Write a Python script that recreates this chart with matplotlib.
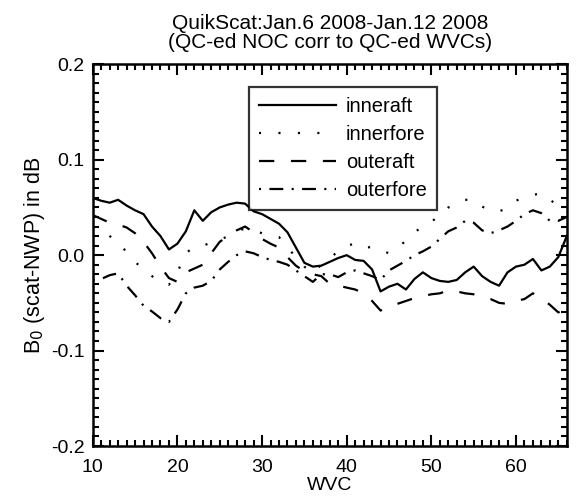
import matplotlib
matplotlib.use("Agg")
import matplotlib.pyplot as plt
from matplotlib.ticker import MultipleLocator

plt.rcParams['font.family'] = ['Liberation Sans', 'DejaVu Sans']
plt.rcParams['lines.scale_dashes'] = False

wvc = list(range(10, 67))
inneraft = [0.060, 0.057, 0.055, 0.058, 0.052, 0.047, 0.043, 0.030, 0.020, 0.006,
            0.012, 0.025, 0.047, 0.036, 0.045, 0.050, 0.053, 0.055, 0.054, 0.046,
            0.043, 0.038, 0.033, 0.024, 0.008, -0.008, -0.012, -0.011, -0.007, -0.003,
            0.000, -0.005, -0.006, -0.015, -0.038, -0.033, -0.030, -0.036, -0.025, -0.018,
            -0.024, -0.027, -0.028, -0.026, -0.018, -0.012, -0.022, -0.028, -0.032, -0.018,
            -0.012, -0.010, -0.004, -0.016, -0.012, -0.002, 0.020]
innerfore = [0.030, 0.027, 0.020, 0.014, 0.003, -0.007, -0.015, -0.022, -0.028, -0.031,
             -0.018, 0.002, 0.009, 0.010, 0.013, 0.016, 0.020, 0.025, 0.028, 0.026,
             0.023, 0.021, 0.019, 0.008, -0.002, -0.012, -0.019, -0.010, -0.003, 0.004,
             0.010, 0.012, 0.007, 0.009, 0.005, 0.002, 0.008, 0.015, 0.024, 0.030,
             0.034, 0.044, 0.050, 0.053, 0.058, 0.058, 0.051, 0.046, 0.046, 0.049,
             0.057, 0.061, 0.063, 0.065, 0.058, 0.052, 0.052]
outeraft = [0.042, 0.038, 0.034, 0.032, 0.029, 0.023, 0.014, 0.002, -0.012, -0.024,
            -0.028, -0.018, -0.014, -0.010, 0.002, 0.014, 0.020, 0.026, 0.030, 0.024,
            0.017, 0.012, 0.008, -0.002, -0.011, -0.017, -0.020, -0.022, -0.030, -0.032,
            -0.034, -0.036, -0.040, -0.048, -0.058, -0.055, -0.051, -0.048, -0.045, -0.043,
            -0.041, -0.040, -0.037, -0.038, -0.040, -0.041, -0.044, -0.046, -0.050, -0.051,
            -0.048, -0.046, -0.040, -0.045, -0.052, -0.060, -0.056]
outerfore = [-0.026, -0.025, -0.021, -0.019, -0.032, -0.042, -0.053, -0.059, -0.066, -0.070,
             -0.057, -0.040, -0.034, -0.032, -0.027, -0.015, -0.007, 0.000, 0.004, 0.002,
             -0.002, -0.005, -0.007, -0.010, -0.016, -0.022, -0.028, -0.020, -0.020, -0.023,
             -0.018, -0.016, -0.019, -0.022, -0.026, -0.016, -0.011, -0.006, 0.000, 0.004,
             0.009, 0.017, 0.025, 0.029, 0.036, 0.034, 0.026, 0.023, 0.026, 0.030,
             0.036, 0.043, 0.047, 0.044, 0.036, 0.036, 0.040]

fig = plt.figure(figsize=(5.76, 4.97), dpi=100)
ax = fig.add_axes([0.161, 0.1026, 0.823, 0.768])

lw = 1.6
ax.plot(wvc, inneraft, color='black', lw=lw, linestyle='-', label='inneraft')
ax.plot(wvc, innerfore, color='black', lw=lw, linestyle=(0, (1.5, 12.5)), label='innerfore')
ax.plot(wvc, outeraft, color='black', lw=lw, linestyle=(0, (11, 12)), label='outeraft')
ax.plot(wvc, outerfore, color='black', lw=lw, linestyle=(0, (1.5, 6, 10, 6)), label='outerfore')

ax.set_xlim(10, 66)
ax.set_ylim(-0.2, 0.2)
ax.xaxis.set_major_locator(MultipleLocator(10))
ax.xaxis.set_minor_locator(MultipleLocator(1))
ax.yaxis.set_major_locator(MultipleLocator(0.1))
ax.yaxis.set_minor_locator(MultipleLocator(0.01))
ax.set_yticks([-0.2, -0.1, 0.0, 0.1, 0.2])
ax.set_yticklabels(['-0.2', '-0.1', '0.0', '0.1', '0.2'])
ax.tick_params(which='both', direction='in', top=True, right=True, width=1.5, labelsize=14)
ax.tick_params(axis='x', pad=9)
ax.tick_params(axis='y', pad=6)
ax.tick_params(which='major', length=8)
ax.tick_params(which='minor', length=4)
for s in ax.spines.values():
    s.set_linewidth(1.8)

ax.set_xlabel('WVC', fontsize=14, labelpad=1)
ax.set_ylabel(r'B$_0$ (scat-NWP) in dB', fontsize=15.5, labelpad=3)
ax.set_title('QuikScat:Jan.6 2008-Jan.12 2008\n(QC-ed NOC corr to QC-ed WVCs)', fontsize=15,
             linespacing=0.95, pad=12)

leg = ax.legend(loc='upper left', bbox_to_anchor=(0.330, 0.9405), borderaxespad=0,
                fontsize=14.5, handlelength=3.8, handletextpad=0.5, labelspacing=0.45,
                frameon=True, fancybox=False, edgecolor='black', borderpad=0.5)
leg.get_frame().set_linewidth(1.6)

fig.savefig('out.png', dpi=100)
